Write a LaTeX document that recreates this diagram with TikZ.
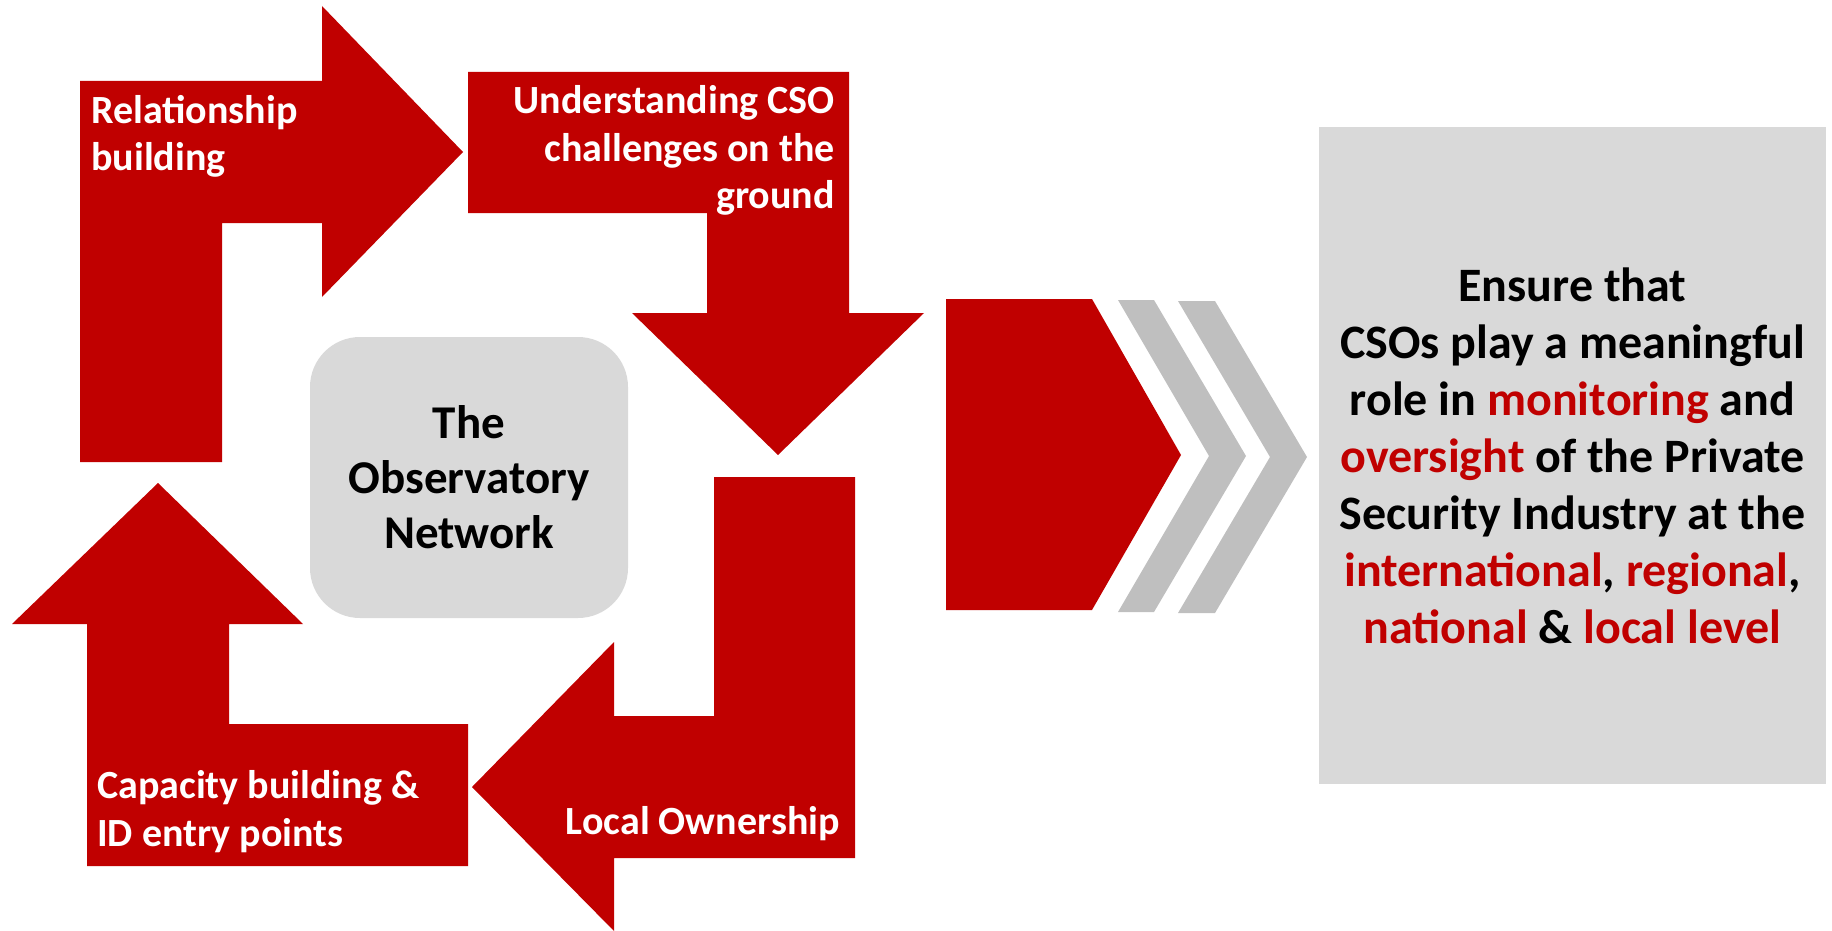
\documentclass[tikz,border=0pt]{standalone}
\usepackage{fontspec}
\setmainfont{Carlito}
\definecolor{cred}{HTML}{C00000}
\definecolor{clight}{HTML}{D9D9D9}
\definecolor{cchev}{HTML}{BFBFBF}
\tikzset{
  steplbl/.style={text=white, inner sep=0pt, font=\fontsize{40}{47.5}\selectfont\bfseries},
  hubbox/.style={fill=clight, rounded corners=50pt, inner sep=0pt, align=center, font=\fontsize{47}{55}\selectfont\bfseries},
  goalbox/.style={fill=clight, inner sep=0pt, align=center, font=\fontsize{48}{57}\selectfont\bfseries}
}
\begin{document}
\begin{tikzpicture}[x=1pt,y=-1pt]
\useasboundingbox (0,0) rectangle (1832,931);
\fill[cred] (80,462) -- (80,81) -- (322,81) -- (322,6) -- (463,152) -- (322,297) -- (322,223) -- (222,223) -- (222,462) -- cycle;
\fill[cred] (468,72) -- (849,72) -- (849,313) -- (924,313) -- (778,455) -- (632,313) -- (707,313) -- (707,213) -- (468,213) -- cycle;
\fill[cred] (855,477) -- (855,858) -- (614,858) -- (614,931) -- (472,787) -- (614,642) -- (614,716) -- (714,716) -- (714,477) -- cycle;
\fill[cred] (87,866) -- (87,624) -- (12,624) -- (158,483) -- (303,624) -- (229,624) -- (229,724) -- (468,724) -- (468,866) -- cycle;
\node[steplbl, anchor=base west, align=left] (rel) at (91,171) {Relationship\\building};
\node[steplbl, anchor=base east, align=right] (und) at (835,208.5) {Understanding CSO\\challenges on the\\ground};
\node[steplbl, anchor=base east, align=right] (own) at (840,834) {Local Ownership};
\node[steplbl, anchor=base west, align=left] (cap) at (97,846) {Capacity building \&\\ID entry points};
\node[hubbox, minimum width=318pt, minimum height=281pt] (hub) at (469,477.5) {The\\Observatory\\Network};
\fill[cred] (946,299) -- (1092,299) -- (1181,455) -- (1092,610) -- (946,610) -- cycle;
\fill[cchev] (1118,300) -- (1154,300) -- (1246,456) -- (1154,612) -- (1118,612) -- (1209,456) -- cycle;
\fill[cchev] (1178,301) -- (1215,301) -- (1307,457) -- (1215,613) -- (1178,613) -- (1270,457) -- cycle;
\node[goalbox, minimum width=507pt, minimum height=657pt] (goal) at (1572.5,455.5) {Ensure that\\CSOs play a meaningful\\role in \textcolor{cred}{monitoring} and\\\textcolor{cred}{oversight} of the Private\\Security Industry at the\\\textcolor{cred}{international}, \textcolor{cred}{regional},\\\textcolor{cred}{national} \& \textcolor{cred}{local level}};
\end{tikzpicture}
\end{document}
